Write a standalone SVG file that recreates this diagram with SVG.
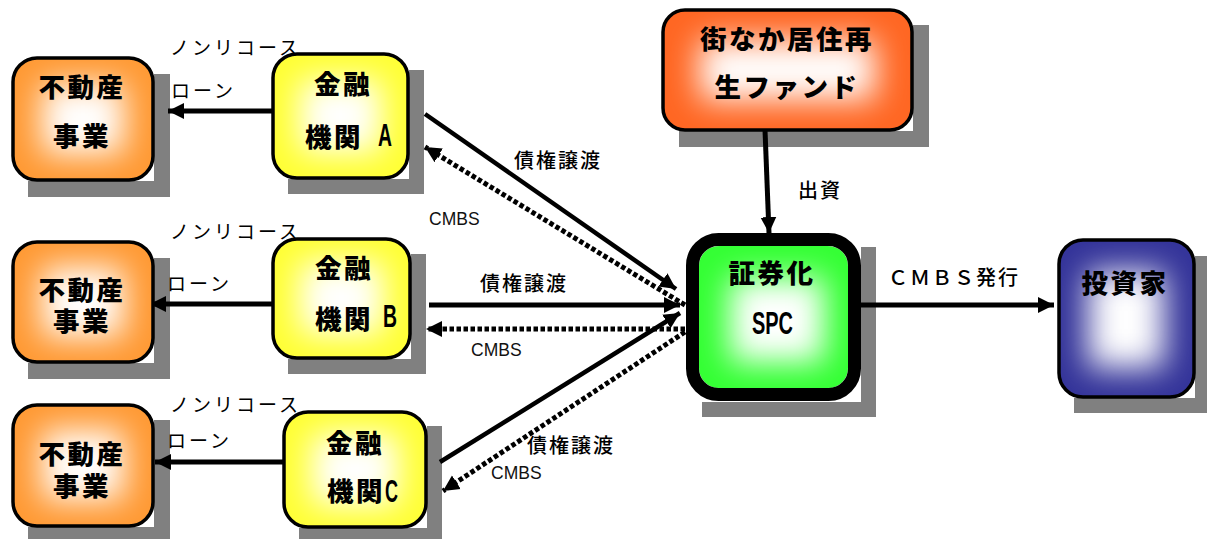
<svg xmlns="http://www.w3.org/2000/svg" width="1207" height="539" viewBox="0 0 1207 539">
<style>
.box{fill:none;stroke:#000;stroke-width:3.5}
.shadow{fill:#808080}
.glow{fill:#fff;filter:url(#blur)}
.t{font-family:"Noto Sans CJK JP","Liberation Sans",sans-serif;font-weight:900;font-size:26.5px;fill:#000;text-anchor:middle;letter-spacing:2.5px}
.a{font-family:"Liberation Sans",sans-serif;font-weight:700;font-size:31px;fill:#000}
.l{font-family:"Noto Sans CJK JP","Liberation Sans",sans-serif;font-size:19px;fill:#000;letter-spacing:3px}
.m{font-family:"Noto Sans CJK JP","Liberation Sans",sans-serif;font-size:20px;fill:#000;font-weight:500;letter-spacing:2px}
.c{font-family:"Liberation Sans",sans-serif;font-size:17.5px;fill:#111}
.s{fill:none;stroke:#000;stroke-width:4.5}
.d{fill:none;stroke:#000;stroke-width:5;stroke-dasharray:4.5 2.5}
.k{fill:none;stroke:#000;stroke-width:5}
</style>
<defs>
<marker id="ah" markerUnits="userSpaceOnUse" markerWidth="18" markerHeight="18" refX="16" refY="9" orient="auto"><path d="M0 1 L16 9 L0 17 Z" fill="#000"/></marker>
<filter id="blur" x="-60%" y="-60%" width="220%" height="220%"><feGaussianBlur stdDeviation="16"/></filter>
<clipPath id="c1"><rect x="13" y="58" width="140" height="122" rx="24"/></clipPath>
<clipPath id="c2"><rect x="273" y="54" width="135" height="124" rx="24"/></clipPath>
<clipPath id="c3"><rect x="13" y="242" width="140" height="120" rx="24"/></clipPath>
<clipPath id="c4"><rect x="273" y="239" width="137" height="119" rx="24"/></clipPath>
<clipPath id="c5"><rect x="13" y="405" width="140" height="121" rx="24"/></clipPath>
<clipPath id="c6"><rect x="284" y="412" width="142" height="115" rx="24"/></clipPath>
<clipPath id="c7"><rect x="663" y="10" width="249" height="120" rx="22"/></clipPath>
<clipPath id="c8"><rect x="699" y="246" width="149" height="142" rx="20"/></clipPath>
<clipPath id="c9"><rect x="1059" y="240" width="135" height="157" rx="24"/></clipPath>
</defs>

<g id="shadows">
<path class="shadow" d="M154 74H170V197H28V181H154Z"/>
<path class="shadow" d="M409 70H424V194H288V179H409Z"/>
<path class="shadow" d="M154 258H170V379H28V363H154Z"/>
<path class="shadow" d="M411 254H426V374H288V359H411Z"/>
<path class="shadow" d="M154 420H170V539H28V527H154Z"/>
<path class="shadow" d="M427 426H442V539H299V528H427Z"/>
<path class="shadow" d="M913 25H929V147H679V131H913Z"/>
<path class="shadow" d="M861 247H876V417H702V402H861Z"/>
<path class="shadow" d="M1195 256H1207V413H1074V398H1195Z"/>
</g>

<g id="connectors">
<path class="s" marker-end="url(#ah)" d="M425 114L676 289"/>
<path class="d" marker-end="url(#ah)" d="M685 305L425 147"/>
<path class="k" marker-end="url(#ah)" d="M429 305H680"/>
<path class="d" marker-end="url(#ah)" d="M685 329H426"/>
<path class="s" marker-end="url(#ah)" d="M440 462L680 313"/>
<path class="d" marker-end="url(#ah)" d="M685 332L443 491"/>
<path class="k" marker-end="url(#ah)" d="M272 111H168"/>
<path class="k" marker-end="url(#ah)" d="M290 304H150"/>
<path class="k" marker-end="url(#ah)" d="M287 462H155"/>
<path class="k" marker-end="url(#ah)" d="M765 130L769 233"/>
<path class="k" marker-end="url(#ah)" d="M860 305H1054"/>
</g>

<g id="re1"><g clip-path="url(#c1)"><rect x="13" y="58" width="140" height="122" fill="#ff9933"/><rect class="glow" x="42" y="84" width="82" height="70"/></g><rect class="box" x="13" y="58" width="140" height="122" rx="24"/><text class="t" x="82" y="97">不動産</text><text class="t" x="82" y="146">事業</text></g>
<g id="bank-a"><g clip-path="url(#c2)"><rect x="273" y="54" width="135" height="124" fill="#ffff33"/><rect class="glow" x="300" y="80" width="81" height="72"/></g><rect class="box" x="273" y="54" width="135" height="124" rx="24"/><text class="t" x="343" y="94">金融</text><text class="t" x="334" y="147">機関</text><text class="a" x="378" y="146" textLength="14" lengthAdjust="spacingAndGlyphs">A</text></g>
<g id="re2"><g clip-path="url(#c3)"><rect x="13" y="242" width="140" height="120" fill="#ff9933"/><rect class="glow" x="42" y="267" width="82" height="70"/></g><rect class="box" x="13" y="242" width="140" height="120" rx="24"/><text class="t" x="82" y="300">不動産</text><text class="t" x="82" y="331">事業</text></g>
<g id="bank-b"><g clip-path="url(#c4)"><rect x="273" y="239" width="137" height="119" fill="#ffff33"/><rect class="glow" x="300" y="262" width="83" height="72"/></g><rect class="box" x="273" y="239" width="137" height="119" rx="24"/><text class="t" x="344" y="278">金融</text><text class="t" x="344" y="329">機関</text><text class="a" x="383" y="327" textLength="14" lengthAdjust="spacingAndGlyphs">B</text></g>
<g id="re3"><g clip-path="url(#c5)"><rect x="13" y="405" width="140" height="121" fill="#ff9933"/><rect class="glow" x="42" y="430" width="82" height="70"/></g><rect class="box" x="13" y="405" width="140" height="121" rx="24"/><text class="t" x="82" y="464">不動産</text><text class="t" x="82" y="496">事業</text></g>
<g id="bank-c"><g clip-path="url(#c6)"><rect x="284" y="412" width="142" height="115" fill="#ffff33"/><rect class="glow" x="312" y="434" width="86" height="71"/></g><rect class="box" x="284" y="412" width="142" height="115" rx="24"/><text class="t" x="355" y="453">金融</text><text class="t" x="356" y="501">機関</text><text class="a" x="385" y="502" textLength="13" lengthAdjust="spacingAndGlyphs">C</text></g>
<g id="fund"><g clip-path="url(#c7)"><rect x="663" y="10" width="249" height="120" fill="#ff6622"/><rect class="glow" x="700" y="40" width="175" height="60"/></g><rect class="box" x="663" y="10" width="249" height="120" rx="22"/><text class="t" x="787" y="49">街なか居住再</text><text class="t" x="787" y="97">生ファンド</text></g>
<g id="spc"><g clip-path="url(#c8)"><rect x="699" y="246" width="149" height="142" fill="#33ff33"/><rect class="glow" x="730" y="278" width="94" height="84"/></g><rect x="692.500" y="239.500" width="162" height="155" rx="26" fill="none" stroke="#000" stroke-width="13"/><text class="t" x="772" y="283">証券化</text><text class="a" x="752" y="334" textLength="41" lengthAdjust="spacingAndGlyphs">SPC</text></g>
<g id="investor"><g clip-path="url(#c9)"><rect x="1059" y="240" width="135" height="157" fill="#333399"/><rect class="glow" x="1088" y="272" width="76" height="96"/></g><rect class="box" x="1059" y="240" width="135" height="157" rx="24"/><text class="t" x="1125" y="293">投資家</text></g>

<g id="labels">
<text class="l" x="170" y="55">ノンリコース</text>
<text class="l" x="171" y="98">ローン</text>
<text class="l" x="170" y="239">ノンリコース</text>
<text class="l" x="167" y="291">ローン</text>
<text class="l" x="170" y="412">ノンリコース</text>
<text class="l" x="167" y="448">ローン</text>
<text class="m" x="514" y="168">債権譲渡</text>
<text class="m" x="480" y="291">債権譲渡</text>
<text class="m" x="527" y="453">債権譲渡</text>
<text class="c" x="429" y="225">CMBS</text>
<text class="c" x="471" y="356">CMBS</text>
<text class="c" x="491" y="479">CMBS</text>
<text class="m" x="798" y="198">出資</text>
<text class="m" x="888" y="285">ＣＭＢＳ発行</text>
</g>
</svg>
